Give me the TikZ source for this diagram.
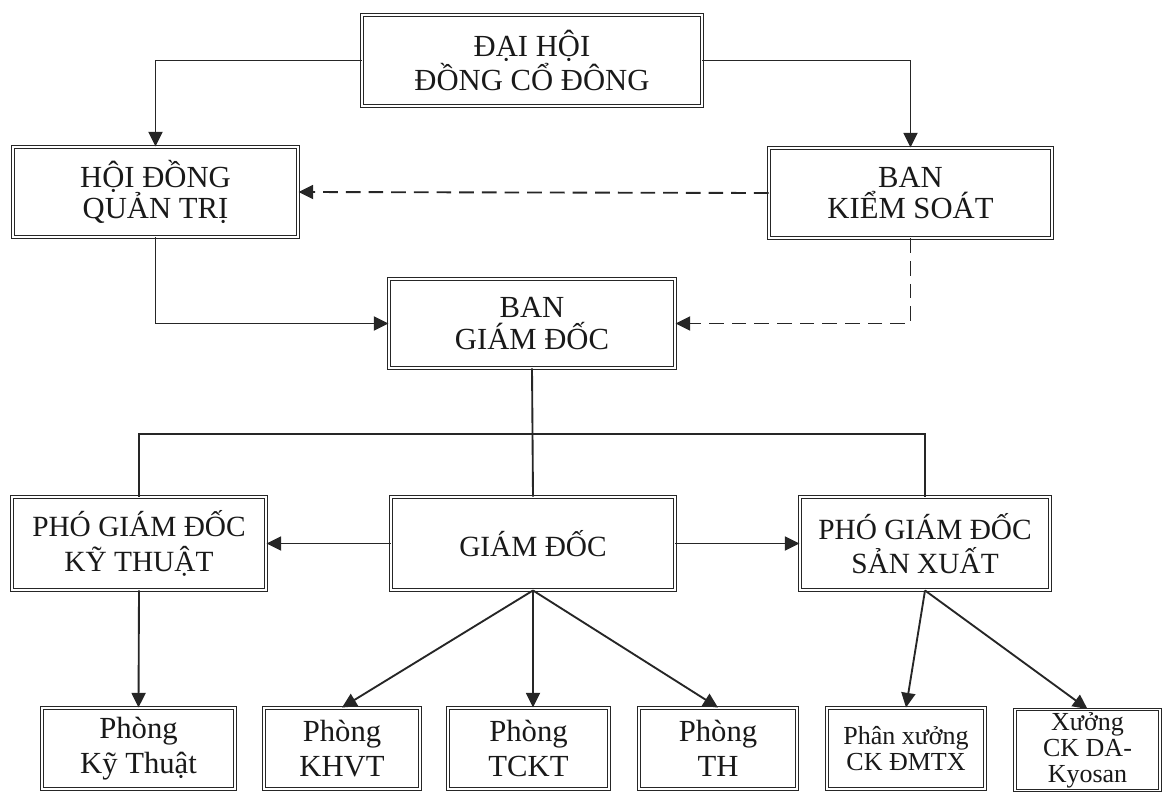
\documentclass[tikz,border=0pt]{standalone}
\usepackage{fontspec}
\setmainfont{Liberation Serif}
\usetikzlibrary{arrows.meta}
\tikzset{
  orgbox/.style 2 args={draw=black!85, double, double distance=1.3pt, line width=0.7pt,
    fill=white, align=center, inner sep=0pt, text=black!90,
    minimum width=#1*0.75pt, minimum height=#2*0.75pt},
  bigtext/.style={font=\fontsize{23}{23.5}\selectfont},
  midtext/.style={font=\fontsize{22}{26}\selectfont},
  lowtext/.style={font=\fontsize{23}{26}\selectfont},
  smalltext/.style={font=\fontsize{19.5}{20}\selectfont},
  tinytext/.style={font=\fontsize{19.5}{19.5}\selectfont},
  conn/.style={line width=1.4pt, draw=black!85},
  arr/.style={conn, -{Triangle[length=11pt,width=10.5pt]}},
  dasharr/.style={conn, dash pattern=on 11pt off 6pt, -{Triangle[length=11pt,width=10.5pt]}}
}
\begin{document}
\begin{tikzpicture}[x=0.75pt,y=-0.75pt]
\useasboundingbox (0,0) rectangle (1166,792);
% row 1
\node[orgbox={340}{91}, bigtext] (dh) at (532,60.5) {ĐẠI HỘI\\ĐỒNG CỔ ĐÔNG};
% row 2
\node[orgbox={285}{90}, bigtext] (hdqt) at (155.5,192) {HỘI ĐỒNG\\QUẢN TRỊ};
\node[orgbox={283}{90}, bigtext] (bks) at (910.5,193) {BAN\\KIỂM SOÁT};
% row 3
\node[orgbox={286}{89}, bigtext] (bgd) at (532,323.5) {BAN\\GIÁM ĐỐC};
% row 4
\node[orgbox={254}{93}, midtext] (pgdkt) at (139,543.5) {PHÓ GIÁM ĐỐC\\KỸ THUẬT};
\node[orgbox={284}{93}, midtext] (gd) at (533,543.5) {GIÁM ĐỐC};
\node[orgbox={250}{93}, midtext] (pgdsx) at (925,543.5) {PHÓ GIÁM ĐỐC\\SẢN XUẤT};
% row 5
\node[orgbox={193}{81}, lowtext] (pkt) at (138.5,748.5) {Phòng\\Kỹ Thuật};
\node[orgbox={156}{81}, lowtext] (khvt) at (342,748.5) {Phòng\\KHVT};
\node[orgbox={161}{81}, lowtext] (tckt) at (528.5,748.5) {Phòng\\TCKT};
\node[orgbox={158}{81}, lowtext] (th) at (718,748.5) {Phòng\\TH};
\node[orgbox={158}{81}, smalltext] (px) at (906,748.5) {Phân xưởng\\CK ĐMTX};
\node[orgbox={145}{81}, tinytext] (xuong) at (1087.5,750) {Xưởng\\CK DA-\\Kyosan};
% connectors
\coordinate (bus) at (532,434);
\draw[arr] (dh.west) -| (hdqt.north);
\draw[arr] (dh.east) -| (bks.north);
\draw[dasharr] (bks.west) -- (hdqt.east);
\draw[arr] (hdqt.south) |- (bgd.west);
\draw[dasharr] (bks.south) |- (bgd.east);
\draw[conn] (bgd.south) -- (gd.north);
\draw[conn] (pgdkt.north) |- (bus) -| (pgdsx.north);
\draw[arr] (gd.west) -- (pgdkt.east);
\draw[arr] (gd.east) -- (pgdsx.west);
\draw[arr] (pgdkt.south) -- (pkt.north);
\draw[arr] (gd.south) -- (khvt.north);
\draw[arr] (gd.south) -- (gd.south |- tckt.north);
\draw[arr] (gd.south) -- (th.north);
\draw[arr] (pgdsx.south) -- (px.north);
\draw[arr] (pgdsx.south) -- (xuong.north);
\end{tikzpicture}
\end{document}
